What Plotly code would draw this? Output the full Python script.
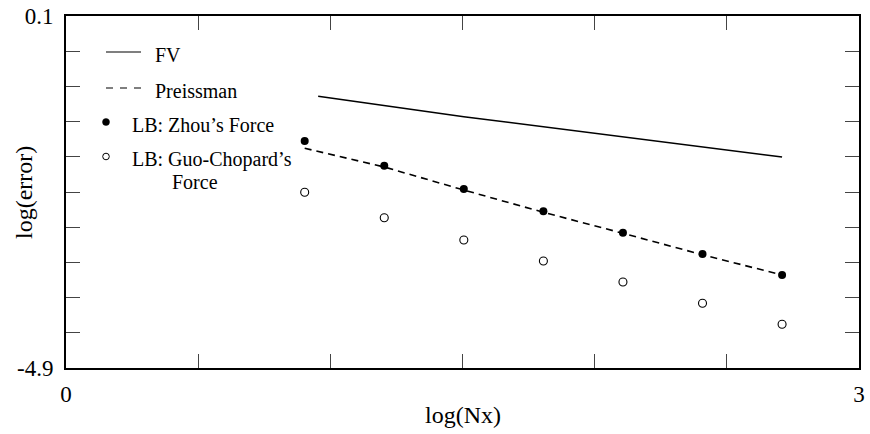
import plotly.graph_objects as go

# ---- data ----
x_lb = [0.903, 1.204, 1.505, 1.806, 2.107, 2.408, 2.709]
zhou = [-1.676, -2.026, -2.357, -2.674, -2.978, -3.281, -3.579]
guo = [-2.404, -2.765, -3.082, -3.380, -3.678, -3.981, -4.279]
preissman = [-1.779, -2.045, -2.372, -2.688, -2.987, -3.291, -3.579]
fv_x = [0.954, 1.505, 2.709]
fv_y = [-1.041, -1.330, -1.903]

x_ticks = [0, 0.5, 1, 1.5, 2, 2.5, 3]
x_ticktext = ["0", "", "", "", "", "", "3"]
y_ticks = [0.1, -0.4, -0.9, -1.4, -1.9, -2.4, -2.9, -3.4, -3.9, -4.4, -4.9]
y_ticktext = ["0.1", "", "", "", "", "", "", "", "", "", "-4.9"]

FONT = "Liberation Serif"

fig = go.Figure()
fig.add_trace(go.Scatter(x=fv_x, y=fv_y, mode="lines",
                         line=dict(color="black", width=1.6), name="FV"))
fig.add_trace(go.Scatter(x=x_lb, y=preissman, mode="lines",
                         line=dict(color="black", width=1.6, dash="7px,5px"), name="Preissman"))
fig.add_trace(go.Scatter(x=x_lb, y=zhou, mode="markers",
                         marker=dict(color="black", size=8, line=dict(width=0)),
                         name="LB: Zhou's Force"))
fig.add_trace(go.Scatter(x=x_lb, y=guo, mode="markers",
                         marker=dict(color="white", size=8, line=dict(color="black", width=1.1)),
                         name="LB: Guo-Chopard's Force"))

# ---- manual legend (paper coordinates) ----
L, T, W, H = 66, 16, 793, 352
def px(x):
    return (x - L) / W
def py(y):
    return (T + H - y) / H

shapes = []
annotations = []
shapes.append(dict(type="line", xref="paper", yref="paper", x0=px(106), x1=px(141),
                   y0=py(52), y1=py(52), line=dict(color="black", width=1.2)))
shapes.append(dict(type="line", xref="paper", yref="paper", x0=px(106), x1=px(142),
                   y0=py(88), y1=py(88), line=dict(color="black", width=1.2, dash="7px,7px")))
shapes.append(dict(type="circle", xref="paper", yref="paper", xsizemode="pixel", ysizemode="pixel",
                   xanchor=px(106), yanchor=py(122), x0=-3.5, x1=3.5, y0=-3.5, y1=3.5,
                   fillcolor="black", line=dict(color="black", width=0.5)))
shapes.append(dict(type="circle", xref="paper", yref="paper", xsizemode="pixel", ysizemode="pixel",
                   xanchor=px(106), yanchor=py(156.5), x0=-3.3, x1=3.3, y0=-3.3, y1=3.3,
                   fillcolor="white", line=dict(color="black", width=1)))

legend_text = [("FV", 153, 55), ("Preissman", 153, 91), ("LB: Zhou’s Force", 130, 125),
               ("LB: Guo-Chopard’s", 130, 159.5), ("Force", 170, 181.5)]
for t, xx, yy in legend_text:
    annotations.append(dict(text=t, xref="paper", yref="paper", x=px(xx), y=py(yy),
                            xanchor="left", yanchor="middle", showarrow=False,
                            font=dict(family=FONT, size=20, color="black")))

# axis titles
annotations.append(dict(text="log(Nx)", xref="paper", yref="paper", x=px(462.5), y=py(415),
                        xanchor="center", yanchor="middle", showarrow=False,
                        font=dict(family=FONT, size=24, color="black")))
annotations.append(dict(text="log(error)", xref="paper", yref="paper", x=px(24), y=py(193),
                        xanchor="center", yanchor="middle", showarrow=False, textangle=-90,
                        font=dict(family=FONT, size=24, color="black")))

axis_common = dict(showgrid=False, zeroline=False, showline=True, linecolor="black", linewidth=2,
                   mirror="ticks", ticks="inside", ticklen=14, tickwidth=1, tickcolor="#444",
                   automargin=False,
                   tickfont=dict(family=FONT, size=23, color="black"))

fig.update_layout(
    width=870, height=434,
    margin=dict(l=L, r=870 - L - W, t=T, b=434 - T - H),
    paper_bgcolor="white", plot_bgcolor="white",
    showlegend=False,
    font=dict(family=FONT),
    shapes=shapes, annotations=annotations,
    xaxis=dict(range=[0, 3], tickmode="array", tickvals=x_ticks, ticktext=x_ticktext,
               ticklabelstandoff=4, **axis_common),
    yaxis=dict(range=[-4.9, 0.1], tickmode="array", tickvals=y_ticks, ticktext=y_ticktext,
               ticklabelstandoff=6, **axis_common),
)

fig.write_html("out.html")
